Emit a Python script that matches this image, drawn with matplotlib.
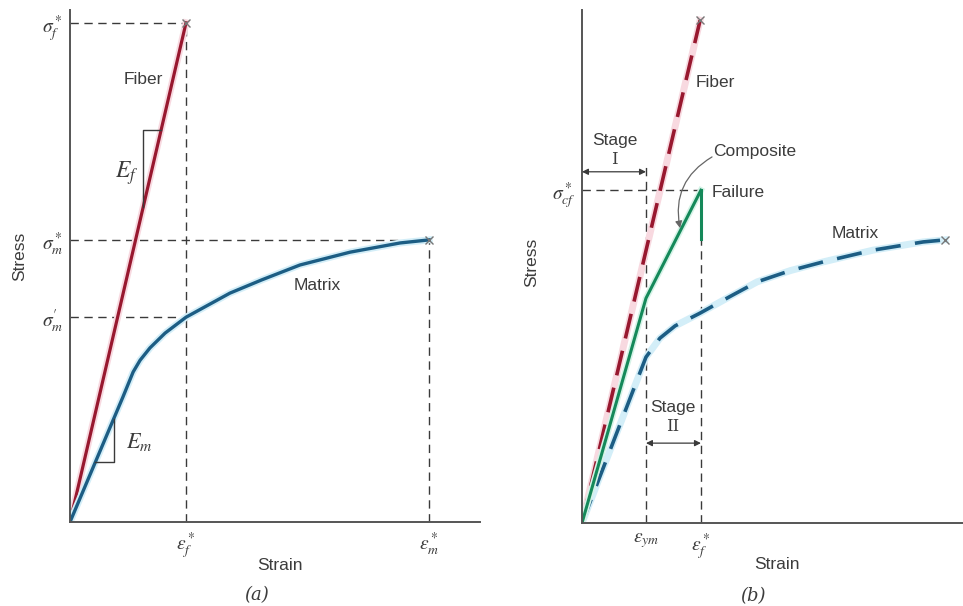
import matplotlib

matplotlib.use('Agg')
import matplotlib.pyplot as plt

plt.rcParams['font.family'] = ['Liberation Sans', 'DejaVu Sans']
plt.rcParams['mathtext.fontset'] = 'stix'

# ---- panel (a): fiber and matrix on their own ----
fiber_a_strain = [0, 2.83]
fiber_a_stress = [0, 9.75]

matrix_a_strain = [0, 1.29, 1.54, 1.71, 1.95, 2.32, 2.83, 3.90, 4.68, 5.61, 6.83, 8.05, 8.76]
matrix_a_stress = [0, 2.44, 2.93, 3.16, 3.40, 3.69, 4.00, 4.47, 4.73, 5.02, 5.27, 5.45, 5.51]

eps_f_a = 2.83      # fiber failure strain
eps_m_a = 8.76      # matrix failure strain
sig_f_a = 9.75      # fiber strength
sig_m_star = 5.51   # matrix strength
sig_m_prime = 4.00  # matrix stress at fiber failure

ef_tri_x = [1.78, 1.78, 2.22]
ef_tri_y = [6.15, 7.66, 7.66]
em_tri_x = [0.62, 1.07, 1.07]
em_tri_y = [1.17, 1.17, 2.02]

# ---- panel (b): composite ----
fiber_b_strain = [0, 2.88]
fiber_b_stress = [0, 9.82]

composite_strain = [0, 1.56, 2.90]
composite_stress = [0, 4.39, 6.50]
failure_strain = [2.90, 2.90]
failure_stress = [6.50, 5.55]

matrix_b_strain = [0, 1.56, 1.90, 2.27, 2.88, 3.60, 4.27, 5.08, 5.88, 7.10, 8.32, 8.85]
matrix_b_stress = [0, 3.24, 3.61, 3.85, 4.10, 4.42, 4.71, 4.93, 5.10, 5.33, 5.49, 5.53]

eps_ym = 1.56
eps_f_b = 2.90
sig_cf = 6.50

RED = '#98182f'
RED_GLOW = '#f8d9e0'
BLUE = '#1c5d84'
BLUE_GLOW = '#d3eef8'
GREEN = '#15895a'
GREEN_GLOW = '#d5f3e7'
GUIDE = '#3a3a3a'
AXIS = '#555555'
TEXT = '#3c3c3c'

fig = plt.figure(figsize=(9.63, 6.06), dpi=100)
ax1 = fig.add_axes([70 / 963, 84 / 606, 410 / 963, 512 / 606])
ax2 = fig.add_axes([582 / 963, 83 / 606, 381 / 963, 513 / 606])

for ax in (ax1, ax2):
    for s in ('top', 'right'):
        ax.spines[s].set_visible(False)
    for s in ('left', 'bottom'):
        ax.spines[s].set_color(AXIS)
        ax.spines[s].set_linewidth(1.4)
    ax.tick_params(length=0, labelsize=14, colors=TEXT)

dash = dict(color=GUIDE, lw=1.0, dashes=(6, 4))
lbl = dict(color=TEXT, fontsize=12.5)

# ---------- (a) ----------
ax1.set_xlim(0, 10.0)
ax1.set_ylim(0, 10.0)

ax1.plot([0, eps_f_a], [sig_f_a, sig_f_a], **dash)
ax1.plot([eps_f_a, eps_f_a], [0, sig_f_a], **dash)
ax1.plot([0, eps_m_a], [sig_m_star, sig_m_star], **dash)
ax1.plot([eps_m_a, eps_m_a], [0, sig_m_star], **dash)
ax1.plot([0, eps_f_a], [sig_m_prime, sig_m_prime], **dash)

ax1.plot(fiber_a_strain, fiber_a_stress, color=RED_GLOW, lw=5)
ax1.plot(fiber_a_strain, fiber_a_stress, color=RED, lw=2.3)
ax1.plot(matrix_a_strain, matrix_a_stress, color=BLUE_GLOW, lw=5, solid_joinstyle='round')
ax1.plot(matrix_a_strain, matrix_a_stress, color=BLUE, lw=2.4, solid_joinstyle='round')
ax1.plot([fiber_a_strain[-1], matrix_a_strain[-1]], [fiber_a_stress[-1], matrix_a_stress[-1]],
         ls='none', marker='x', ms=6, mew=1, color='#777777')

ax1.plot(ef_tri_x, ef_tri_y, color=GUIDE, lw=1)
ax1.plot(em_tri_x, em_tri_y, color=GUIDE, lw=1)

ax1.set_yticks([sig_f_a, sig_m_star, sig_m_prime])
ax1.set_yticklabels([r'$\sigma_f^*$', r'$\sigma_m^*$', r"$\sigma_m'$"])
ax1.set_xticks([eps_f_a, eps_m_a])
ax1.set_xticklabels([r'$\epsilon_f^*$', r'$\epsilon_m^*$'])
ax1.tick_params(axis='y', pad=5)
ax1.tick_params(axis='x', pad=6)

ax1.text(1.78, 8.65, 'Fiber', ha='center', va='center', **lbl)
ax1.text(6.02, 4.61, 'Matrix', ha='center', va='center', **lbl)
ax1.text(1.39, 6.82, r'$E_f$', ha='center', va='center', fontsize=17, color=TEXT)
ax1.text(1.70, 1.56, r'$E_m$', ha='center', va='center', fontsize=16, color=TEXT)
ax1.text(-1.22, 5.18, 'Stress', rotation=90, ha='center', va='center', **lbl)
ax1.text(5.12, -0.84, 'Strain', ha='center', va='center', **lbl)
ax1.text(4.54, -1.25, '(a)', ha='center', va='top', fontsize=13, style='italic',
         family='DejaVu Serif', color=TEXT)

# ---------- (b) ----------
ax2.set_xlim(0, 9.29)
ax2.set_ylim(0, 10.02)

ax2.plot([0, eps_f_b], [sig_cf, sig_cf], **dash)
ax2.plot([eps_ym, eps_ym], [0, 6.99], **dash)
ax2.plot([eps_f_b, eps_f_b], [0, sig_cf], **dash)

ax2.plot(fiber_b_strain, fiber_b_stress, color=RED_GLOW, lw=5)
ax2.plot(fiber_b_strain, fiber_b_stress, color=RED, lw=2.6, dashes=(7, 3.5))
ax2.plot(matrix_b_strain, matrix_b_stress, color=BLUE_GLOW, lw=5, solid_joinstyle='round')
ax2.plot(matrix_b_strain, matrix_b_stress, color=BLUE, lw=2.6, dashes=(7, 4))
ax2.plot(composite_strain, composite_stress, color=GREEN_GLOW, lw=4.5)
ax2.plot(composite_strain, composite_stress, color=GREEN, lw=2.2)
ax2.plot(failure_strain, failure_stress, color=GREEN, lw=2.2)
ax2.plot([fiber_b_strain[-1], matrix_b_strain[-1]], [fiber_b_stress[-1], matrix_b_stress[-1]],
         ls='none', marker='x', ms=6, mew=1, color='#777777')

ax2.set_yticks([sig_cf])
ax2.set_yticklabels([r'$\sigma_{cf}^*$'])
ax2.set_xticks([eps_ym, eps_f_b])
ax2.set_xticklabels([r'$\epsilon_{ym}$', r'$\epsilon_f^*$'])
ax2.tick_params(axis='y', pad=5)
ax2.tick_params(axis='x', pad=6)

arr = dict(arrowstyle='<|-|>', color=GUIDE, lw=0.9, mutation_scale=9, shrinkA=0, shrinkB=0)
ax2.annotate('', xy=(eps_ym, 6.86), xytext=(0, 6.86), arrowprops=arr)
ax2.annotate('', xy=(eps_f_b, 1.56), xytext=(eps_ym, 1.56), arrowprops=arr)
ax2.annotate('', xy=(2.39, 5.76), xytext=(3.17, 7.15),
             arrowprops=dict(arrowstyle='-|>', color='#666666', lw=0.9, mutation_scale=10,
                             connectionstyle='arc3,rad=0.35', shrinkA=0, shrinkB=0))

ax2.text(0.80, 7.48, 'Stage', ha='center', va='center', **lbl)
ax2.text(0.80, 7.10, 'I', ha='center', va='center', family='DejaVu Serif', fontsize=12, color=TEXT)
ax2.text(2.22, 2.25, 'Stage', ha='center', va='center', **lbl)
ax2.text(2.22, 1.88, 'II', ha='center', va='center', family='DejaVu Serif', fontsize=12, color=TEXT)
ax2.text(3.24, 8.61, 'Fiber', ha='center', va='center', **lbl)
ax2.text(3.20, 7.25, 'Composite', ha='left', va='center', **lbl)
ax2.text(3.17, 6.46, 'Failure', ha='left', va='center', **lbl)
ax2.text(6.66, 5.66, 'Matrix', ha='center', va='center', **lbl)
ax2.text(-1.22, 5.10, 'Stress', rotation=90, ha='center', va='center', **lbl)
ax2.text(4.76, -0.82, 'Strain', ha='center', va='center', **lbl)
ax2.text(4.17, -1.25, '(b)', ha='center', va='top', fontsize=13, style='italic',
         family='DejaVu Serif', color=TEXT)

fig.savefig('out.png', dpi=100)
